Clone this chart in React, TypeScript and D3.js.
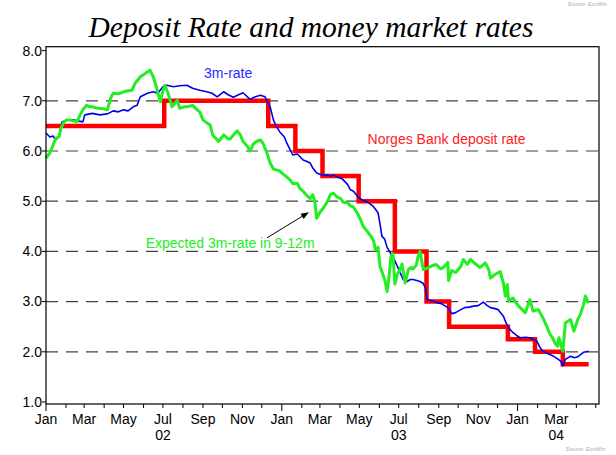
import React from "react";
import * as d3 from "d3";

const yTicks = [1, 2, 3, 4, 5, 6, 7, 8];
const gridValues = [2, 3, 4, 5, 6, 7];
const monthNames = ["Jan", "Feb", "Mar", "Apr", "May", "Jun", "Jul", "Aug", "Sep", "Oct", "Nov", "Dec"];

const depositRate: [string, number][] = [
  ["2002-01-01", 6.5], ["2002-07-03", 7.0], ["2002-12-11", 6.5], ["2003-01-22", 6.0],
  ["2003-03-05", 5.5], ["2003-04-30", 5.0], ["2003-06-25", 4.0], ["2003-08-13", 3.0],
  ["2003-09-17", 2.5], ["2003-12-17", 2.25], ["2004-01-28", 2.0], ["2004-03-11", 1.75],
  ["2004-04-20", 1.75],
];

const threeMonthRate: [string, number][] = [
  ["2002-01-01", 6.36], ["2002-01-07", 6.28], ["2002-01-12", 6.30], ["2002-01-16", 6.22], ["2002-01-21", 6.30],
  ["2002-01-26", 6.58], ["2002-02-02", 6.62], ["2002-02-12", 6.62], ["2002-02-19", 6.60], ["2002-02-27", 6.58],
  ["2002-03-02", 6.72], ["2002-03-14", 6.75], ["2002-03-25", 6.72], ["2002-04-06", 6.74], ["2002-04-15", 6.80],
  ["2002-04-23", 6.78], ["2002-05-01", 6.82], ["2002-05-08", 6.80], ["2002-05-16", 6.88], ["2002-05-22", 6.91],
  ["2002-05-27", 7.08], ["2002-06-07", 7.15], ["2002-06-16", 7.18], ["2002-06-23", 7.15], ["2002-07-01", 7.28],
  ["2002-07-07", 7.31], ["2002-07-17", 7.28], ["2002-07-27", 7.30], ["2002-08-07", 7.31], ["2002-08-16", 7.25],
  ["2002-08-27", 7.21], ["2002-09-07", 7.18], ["2002-09-15", 7.15], ["2002-09-23", 7.08], ["2002-10-03", 7.18],
  ["2002-10-10", 7.12], ["2002-10-18", 7.07], ["2002-10-26", 7.12], ["2002-11-02", 7.16], ["2002-11-13", 7.03],
  ["2002-11-21", 7.08], ["2002-11-29", 7.11], ["2002-12-06", 7.08], ["2002-12-09", 7.01], ["2002-12-14", 6.88],
  ["2002-12-19", 6.62], ["2002-12-23", 6.50], ["2002-12-29", 6.38], ["2003-01-05", 6.28], ["2003-01-09", 6.15],
  ["2003-01-15", 6.00], ["2003-01-18", 5.92], ["2003-01-25", 5.94], ["2003-01-29", 5.89], ["2003-02-03", 5.82],
  ["2003-02-09", 5.79], ["2003-02-14", 5.76], ["2003-02-18", 5.66], ["2003-02-24", 5.56], ["2003-03-04", 5.52],
  ["2003-03-13", 5.52], ["2003-03-17", 5.50], ["2003-03-22", 5.52], ["2003-03-30", 5.47], ["2003-04-05", 5.44],
  ["2003-04-13", 5.33], ["2003-04-17", 5.23], ["2003-04-22", 5.20], ["2003-04-30", 5.07], ["2003-05-06", 5.02],
  ["2003-05-13", 4.99], ["2003-05-23", 4.89], ["2003-05-30", 4.77], ["2003-06-02", 4.55], ["2003-06-05", 4.30],
  ["2003-06-09", 4.25], ["2003-06-13", 4.08], ["2003-06-19", 3.95], ["2003-06-24", 3.84], ["2003-06-29", 3.70],
  ["2003-07-03", 3.58], ["2003-07-08", 3.44], ["2003-07-14", 3.40], ["2003-07-19", 3.44], ["2003-07-23", 3.44],
  ["2003-07-29", 3.42], ["2003-08-03", 3.40], ["2003-08-08", 3.36], ["2003-08-11", 3.28], ["2003-08-14", 3.04],
  ["2003-08-23", 3.01], ["2003-08-29", 2.98], ["2003-09-05", 2.96], ["2003-09-15", 2.88], ["2003-09-21", 2.76],
  ["2003-09-27", 2.78], ["2003-10-05", 2.84], ["2003-10-11", 2.88], ["2003-10-18", 2.89], ["2003-10-25", 2.91],
  ["2003-11-01", 2.92], ["2003-11-09", 2.99], ["2003-11-15", 2.92], ["2003-11-20", 2.88], ["2003-11-27", 2.86],
  ["2003-12-02", 2.84], ["2003-12-10", 2.71], ["2003-12-14", 2.58], ["2003-12-18", 2.48], ["2003-12-25", 2.38],
  ["2003-12-31", 2.32], ["2004-01-05", 2.28], ["2004-01-13", 2.29], ["2004-01-20", 2.28], ["2004-01-27", 2.24],
  ["2004-01-31", 2.21], ["2004-02-05", 2.08], ["2004-02-09", 2.01], ["2004-02-17", 1.96], ["2004-02-26", 1.91],
  ["2004-03-03", 1.86], ["2004-03-08", 1.81], ["2004-03-11", 1.72], ["2004-03-15", 1.85], ["2004-03-23", 1.91],
  ["2004-03-29", 1.88], ["2004-04-03", 1.90], ["2004-04-07", 1.94], ["2004-04-12", 1.99], ["2004-04-20", 2.01],
];

const expectedRate: [string, number][] = [
  ["2002-01-01", 5.86], ["2002-01-07", 5.96], ["2002-01-12", 6.12], ["2002-01-16", 6.25], ["2002-01-21", 6.28],
  ["2002-01-24", 6.45], ["2002-01-29", 6.58], ["2002-02-02", 6.62], ["2002-02-07", 6.62], ["2002-02-12", 6.60],
  ["2002-02-18", 6.58], ["2002-02-22", 6.70], ["2002-02-27", 6.82], ["2002-03-05", 6.91], ["2002-03-10", 6.88],
  ["2002-03-14", 6.88], ["2002-03-22", 6.85], ["2002-03-31", 6.84], ["2002-04-06", 6.82], ["2002-04-11", 7.05],
  ["2002-04-15", 7.15], ["2002-04-23", 7.14], ["2002-05-01", 7.18], ["2002-05-08", 7.20], ["2002-05-14", 7.21],
  ["2002-05-19", 7.35], ["2002-05-27", 7.48], ["2002-06-03", 7.54], ["2002-06-11", 7.61], ["2002-06-16", 7.48],
  ["2002-06-20", 7.31], ["2002-06-27", 6.98], ["2002-07-01", 7.20], ["2002-07-04", 7.31], ["2002-07-09", 7.15],
  ["2002-07-15", 6.88], ["2002-07-23", 7.01], ["2002-07-27", 6.85], ["2002-08-03", 6.88], ["2002-08-07", 6.88],
  ["2002-08-16", 6.91], ["2002-08-23", 6.82], ["2002-08-27", 6.78], ["2002-09-01", 6.62], ["2002-09-07", 6.56],
  ["2002-09-12", 6.52], ["2002-09-16", 6.32], ["2002-09-25", 6.19], ["2002-10-03", 6.32], ["2002-10-09", 6.25],
  ["2002-10-13", 6.24], ["2002-10-20", 6.35], ["2002-10-24", 6.40], ["2002-10-29", 6.32], ["2002-11-02", 6.19],
  ["2002-11-09", 6.09], ["2002-11-13", 6.00], ["2002-11-18", 6.14], ["2002-11-24", 6.20], ["2002-11-29", 6.22],
  ["2002-12-03", 6.15], ["2002-12-09", 5.96], ["2002-12-14", 5.76], ["2002-12-19", 5.64], ["2002-12-25", 5.62],
  ["2002-12-29", 5.60], ["2003-01-03", 5.54], ["2003-01-09", 5.48], ["2003-01-14", 5.42], ["2003-01-18", 5.35],
  ["2003-01-25", 5.36], ["2003-01-29", 5.25], ["2003-02-03", 5.20], ["2003-02-09", 5.11], ["2003-02-14", 5.05],
  ["2003-02-18", 5.13], ["2003-02-21", 5.00], ["2003-02-24", 4.66], ["2003-03-01", 4.78], ["2003-03-06", 4.86],
  ["2003-03-13", 5.00], ["2003-03-17", 5.13], ["2003-03-22", 5.16], ["2003-03-28", 5.08], ["2003-04-02", 5.05],
  ["2003-04-06", 4.98], ["2003-04-13", 4.97], ["2003-04-17", 4.91], ["2003-04-22", 4.88], ["2003-04-28", 4.76],
  ["2003-05-03", 4.63], ["2003-05-07", 4.50], ["2003-05-12", 4.42], ["2003-05-18", 4.32], ["2003-05-23", 4.22],
  ["2003-05-26", 4.03], ["2003-05-30", 4.08], ["2003-06-02", 3.70], ["2003-06-05", 3.60], ["2003-06-10", 3.40],
  ["2003-06-13", 3.20], ["2003-06-16", 3.50], ["2003-06-19", 3.90], ["2003-06-22", 3.95], ["2003-06-25", 3.35],
  ["2003-06-29", 3.55], ["2003-07-03", 3.64], ["2003-07-06", 3.75], ["2003-07-11", 3.37], ["2003-07-16", 3.64],
  ["2003-07-20", 3.68], ["2003-07-23", 3.65], ["2003-07-28", 3.72], ["2003-07-31", 3.90], ["2003-08-03", 4.00],
  ["2003-08-08", 3.64], ["2003-08-15", 3.67], ["2003-08-23", 3.72], ["2003-08-28", 3.74], ["2003-09-04", 3.65],
  ["2003-09-08", 3.68], ["2003-09-15", 3.78], ["2003-09-16", 3.42], ["2003-09-21", 3.62], ["2003-09-27", 3.58],
  ["2003-10-05", 3.70], ["2003-10-09", 3.84], ["2003-10-15", 3.74], ["2003-10-20", 3.84], ["2003-10-25", 3.78],
  ["2003-10-29", 3.74], ["2003-11-04", 3.68], ["2003-11-12", 3.77], ["2003-11-17", 3.65], ["2003-11-20", 3.47],
  ["2003-11-27", 3.54], ["2003-12-05", 3.60], ["2003-12-10", 3.37], ["2003-12-13", 3.11], ["2003-12-16", 3.34],
  ["2003-12-18", 3.01], ["2003-12-25", 3.07], ["2003-12-31", 2.95], ["2004-01-05", 2.88], ["2004-01-13", 2.78],
  ["2004-01-20", 3.04], ["2004-01-25", 2.81], ["2004-02-02", 2.84], ["2004-02-09", 2.68], ["2004-02-16", 2.48],
  ["2004-02-20", 2.35], ["2004-02-24", 2.28], ["2004-02-29", 2.15], ["2004-03-03", 2.11], ["2004-03-05", 2.28],
  ["2004-03-08", 2.15], ["2004-03-11", 2.01], ["2004-03-15", 2.58], ["2004-03-23", 2.64], ["2004-03-28", 2.41],
  ["2004-04-03", 2.64], ["2004-04-07", 2.74], ["2004-04-12", 2.94], ["2004-04-15", 3.11], ["2004-04-20", 2.97],
];

const labels = {
  threeM: { text: "3m-rate", date: "2002-10-10", value: 7.45, color: "#2a2aff" },
  deposit: { text: "Norges Bank deposit rate", date: "2003-09-13", value: 6.14, color: "#ff2020" },
  expected: { text: "Expected 3m-rate in 9-12m", date: "2002-10-13", value: 4.07, color: "#22ee22" },
};
const arrowFrom: [string, number] = ["2002-12-09", 4.27];
const arrowTo: [string, number] = ["2003-02-12", 4.78];

const parse = d3.timeParse("%Y-%m-%d");

export default function App() {
  const W = 616, H = 455;
  const left = 46, right = 599, top = 46.7, bottom = 404;
  const x = d3.scaleTime().domain([new Date(2002, 0, 1), new Date(2004, 4, 6)]).range([left, right]);
  const y = d3.scaleLinear().domain([0.96, 8.078]).range([bottom, top]);

  const mk = (curve: d3.CurveFactory) =>
    d3.line<[string, number]>().x((d) => x(parse(d[0]) as Date)).y((d) => y(d[1])).curve(curve);

  const redPath = mk(d3.curveStepAfter)(depositRate) || "";
  const bluePath = mk(d3.curveLinear)(threeMonthRate) || "";
  const greenPath = mk(d3.curveLinear)(expectedRate) || "";

  const months = d3.timeMonth.range(new Date(2002, 0, 1), new Date(2004, 4, 2));
  const lastLabel = new Date(2004, 3, 1);
  const font = "'Liberation Sans', Arial, Helvetica, sans-serif";

  const ax = x(parse(arrowFrom[0]) as Date), ay = y(arrowFrom[1]);
  const bx = x(parse(arrowTo[0]) as Date), by = y(arrowTo[1]);
  const ang = Math.atan2(by - ay, bx - ax);
  const hl = 8, hw = 3;
  const head = [
    [bx, by],
    [bx - hl * Math.cos(ang) + hw * Math.sin(ang), by - hl * Math.sin(ang) - hw * Math.cos(ang)],
    [bx - hl * Math.cos(ang) - hw * Math.sin(ang), by - hl * Math.sin(ang) + hw * Math.cos(ang)],
  ].map((p) => p.join(",")).join(" ");

  return (
    <svg width={W} height={H} style={{ position: "absolute", left: 0, top: 0, background: "#fff" }}>
      <text x={607} y={6} textAnchor="end" fontSize={5.5} fontStyle="italic" fill="#aaa" fontFamily={font}>Source: EcoWin</text>
      <text x={311} y={37} textAnchor="middle" fontSize={29.5} fontStyle="italic" fontFamily="'Liberation Serif', 'Times New Roman', serif" fill="#000">
        Deposit Rate and money market rates
      </text>

      {gridValues.map((v) => (
        <line key={v} x1={left} x2={right} y1={y(v)} y2={y(v)} stroke="#444" strokeWidth={1.2} strokeDasharray="12 8" />
      ))}

      <path d={redPath} fill="none" stroke="#ff0000" strokeWidth={4.5} />
      <path d={bluePath} fill="none" stroke="#0000ee" strokeWidth={1.6} strokeLinejoin="round" />
      <path d={greenPath} fill="none" stroke="#22ee22" strokeWidth={3} strokeLinejoin="round" />

      <rect x={left} y={top} width={right - left} height={bottom - top} fill="none" stroke="#000" strokeWidth={1.2} />

      {yTicks.map((v) => (
        <g key={v}>
          <line x1={left - 4} x2={left} y1={y(v)} y2={y(v)} stroke="#000" />
          <text x={42} y={y(v)} dy="0.35em" textAnchor="end" fontSize={14} fontFamily={font} fill="#000">{v.toFixed(1)}</text>
        </g>
      ))}

      {months.map((m, i) => {
        const isYear = m.getMonth() === 0;
        const xm = x(m);
        return (
          <g key={i}>
            <line x1={xm} x2={xm} y1={bottom} y2={bottom + (isYear ? 7 : 4)} stroke="#000" />
            {m.getMonth() % 2 === 0 && m < lastLabel && (
              <text x={xm} y={424} textAnchor="middle" fontSize={14} fontFamily={font} fill="#000">{monthNames[m.getMonth()]}</text>
            )}
          </g>
        );
      })}
      {[new Date(2002, 6, 1), new Date(2003, 6, 1), new Date(2004, 2, 1)].map((d, i) => (
        <text key={i} x={x(d)} y={440} textAnchor="middle" fontSize={14} fontFamily={font} fill="#000">
          {d3.timeFormat("%y")(d)}
        </text>
      ))}

      {Object.values(labels).map((l) => (
        <text key={l.text} x={x(parse(l.date) as Date)} y={y(l.value)} textAnchor="middle" fontSize={14} fontFamily={font} fill={l.color}>
          {l.text}
        </text>
      ))}
      <line x1={ax} y1={ay} x2={bx - 6 * Math.cos(ang)} y2={by - 6 * Math.sin(ang)} stroke="#000" strokeWidth={1} />
      <polygon points={head} fill="#000" />

      <text x={605} y={451} textAnchor="end" fontSize={5.5} fontStyle="italic" fill="#aaa" fontFamily={font}>Source: EcoWin</text>
    </svg>
  );
}
